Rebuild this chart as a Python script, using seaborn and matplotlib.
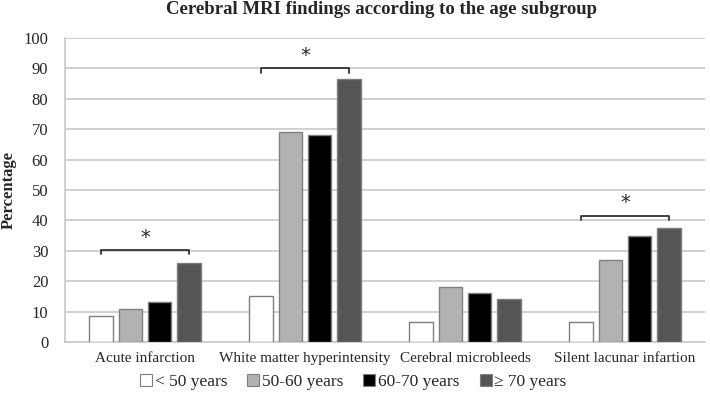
import matplotlib
matplotlib.use("Agg")
import matplotlib.pyplot as plt
import seaborn as sns
import pandas as pd
from matplotlib.lines import Line2D

categories = ["Acute infarction", "White matter hyperintensity",
              "Cerebral microbleeds", "Silent lacunar infartion"]
groups = ["< 50 years", "50-60 years", "60-70 years", "\u2265 70 years"]
values_lt50 = [8.5, 15, 6.5, 6.5]
values_50_60 = [11, 69, 18, 27]
values_60_70 = [13, 68, 16, 35]
values_ge70 = [26, 86.5, 14, 37.5]
colors = ["#ffffff", "#b2b2b2", "#000000", "#555555"]
yticks = [0, 10, 20, 30, 40, 50, 60, 70, 80, 90, 100]
# significance brackets: category index, bracket height
sig_cats = [0, 1, 3]
sig_heights = [30.2, 90, 41.6]

rows = []
for g, vals in zip(groups, [values_lt50, values_50_60, values_60_70, values_ge70]):
    for c, v in zip(categories, vals):
        rows.append({"cat": c, "group": g, "val": v})
df = pd.DataFrame(rows)

sns.set_theme(style="white")
plt.rcParams["font.family"] = ["Liberation Serif", "DejaVu Serif"]

fig = plt.figure(figsize=(7.1, 3.99), dpi=100)
ax = fig.add_axes([65/710, 1-342/399, 640/710, 304/399])

sns.barplot(data=df, x="cat", y="val", hue="group", order=categories,
            hue_order=groups, palette=colors, width=0.733, gap=0.21,
            edgecolor="#7f7f7f", linewidth=1.0, ax=ax, legend=False, zorder=3)

ax.set_ylim(0, 100)
ax.set_xlim(-0.5, 3.5)
ax.set_yticks(yticks)
ax.set_yticklabels([str(t) for t in yticks], fontsize=12)
ax.yaxis.grid(True, color="#c8c8c8", linewidth=1.2, zorder=0)
ax.set_axisbelow(True)
ax.tick_params(axis="y", length=0, pad=12)
ax.tick_params(axis="x", length=0, pad=7, labelsize=11)
for s in ["top", "right"]:
    ax.spines[s].set_visible(False)
ax.spines["left"].set_color("#c8c8c8")
ax.spines["left"].set_linewidth(1.2)
ax.spines["bottom"].set_color("#c8c8c8")
ax.spines["bottom"].set_linewidth(1.2)
ax.set_xlabel("")
ax.set_ylabel("Percentage", fontsize=12, fontweight="bold")
ax.yaxis.set_label_coords(-(65 - 17) / 640, 1 - (190 - 38) / 304)

# brackets with stars
off = 0.733 / 4 * 1.5
for ci, h in zip(sig_cats, sig_heights):
    x0, x1 = ci - off, ci + off
    ax.plot([x0, x0, x1, x1], [h - 1.4, h, h, h - 1.4], color="#333333", lw=1.3,
            zorder=5, clip_on=False)
    ax.text(ci, h + 1.2, "*", ha="center", va="bottom", fontsize=14,
            family="DejaVu Sans", zorder=5)

fig.text(382 / 710, 1 - 10 / 399, "Cerebral MRI findings according to the age subgroup",
         ha="center", va="center", fontsize=13.5, fontweight="bold")

handles = [Line2D([0], [0], marker="s", linestyle="none", markersize=8,
                  markerfacecolor=c, markeredgecolor="#7f7f7f", markeredgewidth=0.8)
           for c in colors]
fig.legend(handles, groups, loc="center", bbox_to_anchor=(352 / 710, 1 - 382 / 399),
           ncol=4, frameon=False, fontsize=12.5, handletextpad=0.0,
           columnspacing=1.0, handlelength=1.0)

fig.savefig("out.png", dpi=100)
